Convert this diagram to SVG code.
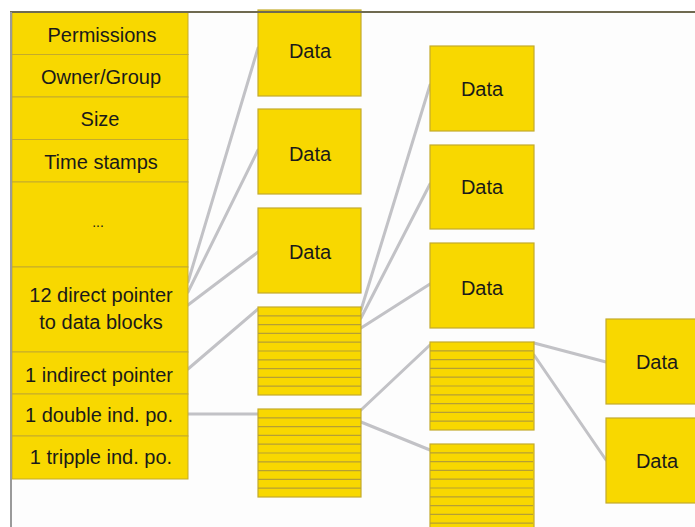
<svg xmlns="http://www.w3.org/2000/svg" width="695" height="527" viewBox="0 0 695 527">
<style>
.cell{fill:#f8d800;stroke:#c4ab2c;stroke-width:1}
.blk{fill:#f8d800;stroke:#c4ab2c;stroke-width:1.2}
.stripe{stroke:#b59f35;stroke-width:1.2}
.t{font-family:"Liberation Sans",Arial,sans-serif;font-size:20px;fill:#1a1a1a;text-anchor:middle;dominant-baseline:central}
.c{stroke:#c2c2c6;stroke-width:3;fill:none;stroke-linecap:round}
</style>
<defs>
<g id="stripes">
<line class="stripe" x1="0" y1="8.8" x2="103" y2="8.8"/>
<line class="stripe" x1="0" y1="17.6" x2="103" y2="17.6"/>
<line class="stripe" x1="0" y1="26.4" x2="103" y2="26.4"/>
<line class="stripe" x1="0" y1="35.2" x2="103" y2="35.2"/>
<line class="stripe" x1="0" y1="44" x2="103" y2="44"/>
<line class="stripe" x1="0" y1="52.8" x2="103" y2="52.8"/>
<line class="stripe" x1="0" y1="61.6" x2="103" y2="61.6"/>
<line class="stripe" x1="0" y1="70.4" x2="103" y2="70.4"/>
<line class="stripe" x1="0" y1="79.2" x2="103" y2="79.2"/>
</g>
</defs>
<rect x="0" y="0" width="695" height="527" fill="#ffffff"/>
<rect x="10" y="12" width="685" height="515" fill="#fdfdfd"/>

<g id="connectors">
<line class="c" x1="188" y1="282" x2="258" y2="48"/>
<line class="c" x1="188" y1="292" x2="258" y2="150"/>
<line class="c" x1="188" y1="305" x2="258" y2="252"/>
<line class="c" x1="188" y1="369" x2="258" y2="309"/>
<line class="c" x1="188" y1="414" x2="258" y2="414"/>
<line class="c" x1="361" y1="310" x2="430" y2="85"/>
<line class="c" x1="361" y1="318" x2="430" y2="184"/>
<line class="c" x1="361" y1="328" x2="430" y2="284"/>
<line class="c" x1="361" y1="410" x2="430" y2="345"/>
<line class="c" x1="361" y1="422" x2="430" y2="450"/>
<line class="c" x1="534" y1="343" x2="606" y2="362"/>
<line class="c" x1="534" y1="355" x2="606" y2="460"/>
</g>

<g id="inode">
<rect class="cell" x="12" y="12" width="176" height="42.5"/>
<rect class="cell" x="12" y="54.5" width="176" height="42.5"/>
<rect class="cell" x="12" y="97" width="176" height="42.5"/>
<rect class="cell" x="12" y="139.5" width="176" height="42.5"/>
<rect class="cell" x="12" y="182" width="176" height="85"/>
<rect class="cell" x="12" y="267" width="176" height="85"/>
<rect class="cell" x="12" y="352" width="176" height="42"/>
<rect class="cell" x="12" y="394" width="176" height="42"/>
<rect class="cell" x="12" y="436" width="176" height="43"/>
<text class="t" x="102" y="35">Permissions</text>
<text class="t" x="101" y="77">Owner/Group</text>
<text class="t" x="100" y="119">Size</text>
<text class="t" x="101" y="162">Time stamps</text>
<text class="t" x="98" y="222" style="font-size:14px">...</text>
<text class="t" x="101" y="295">12 direct pointer</text>
<text class="t" x="101" y="322">to data blocks</text>
<text class="t" x="99" y="375">1 indirect pointer</text>
<text class="t" x="99" y="415">1 double ind. po.</text>
<text class="t" x="101" y="457">1 tripple ind. po.</text>
</g>

<g id="data1"><rect class="blk" x="258" y="10" width="103" height="86"/><text class="t" x="310" y="51">Data</text></g>
<g id="data2"><rect class="blk" x="258" y="109" width="103" height="85"/><text class="t" x="310" y="154">Data</text></g>
<g id="data3"><rect class="blk" x="258" y="208" width="103" height="85"/><text class="t" x="310" y="252">Data</text></g>
<g id="ind1"><rect class="blk" x="258" y="307" width="103" height="88"/><use href="#stripes" x="258" y="307"/></g>
<g id="dind"><rect class="blk" x="258" y="409" width="103" height="88"/><use href="#stripes" x="258" y="409"/></g>

<g id="data4"><rect class="blk" x="430" y="46" width="104" height="85"/><text class="t" x="482" y="89">Data</text></g>
<g id="data5"><rect class="blk" x="430" y="145" width="104" height="84"/><text class="t" x="482" y="187">Data</text></g>
<g id="data6"><rect class="blk" x="430" y="243" width="104" height="85"/><text class="t" x="482" y="288">Data</text></g>
<g id="ind2"><rect class="blk" x="430" y="342" width="104" height="88"/><use href="#stripes" x="430" y="342"/></g>
<g id="ind3"><rect class="blk" x="430" y="444" width="104" height="90"/><use href="#stripes" x="430" y="444"/></g>

<g id="data7"><rect class="blk" x="606" y="319" width="104" height="85"/><text class="t" x="657" y="362">Data</text></g>
<g id="data8"><rect class="blk" x="606" y="418" width="104" height="85"/><text class="t" x="657" y="461">Data</text></g>

<line x1="10" y1="12" x2="695" y2="12" stroke="#6f6a50" stroke-width="2"/>
<line x1="11" y1="12" x2="11" y2="527" stroke="#9a9a9a" stroke-width="2"/>
</svg>
